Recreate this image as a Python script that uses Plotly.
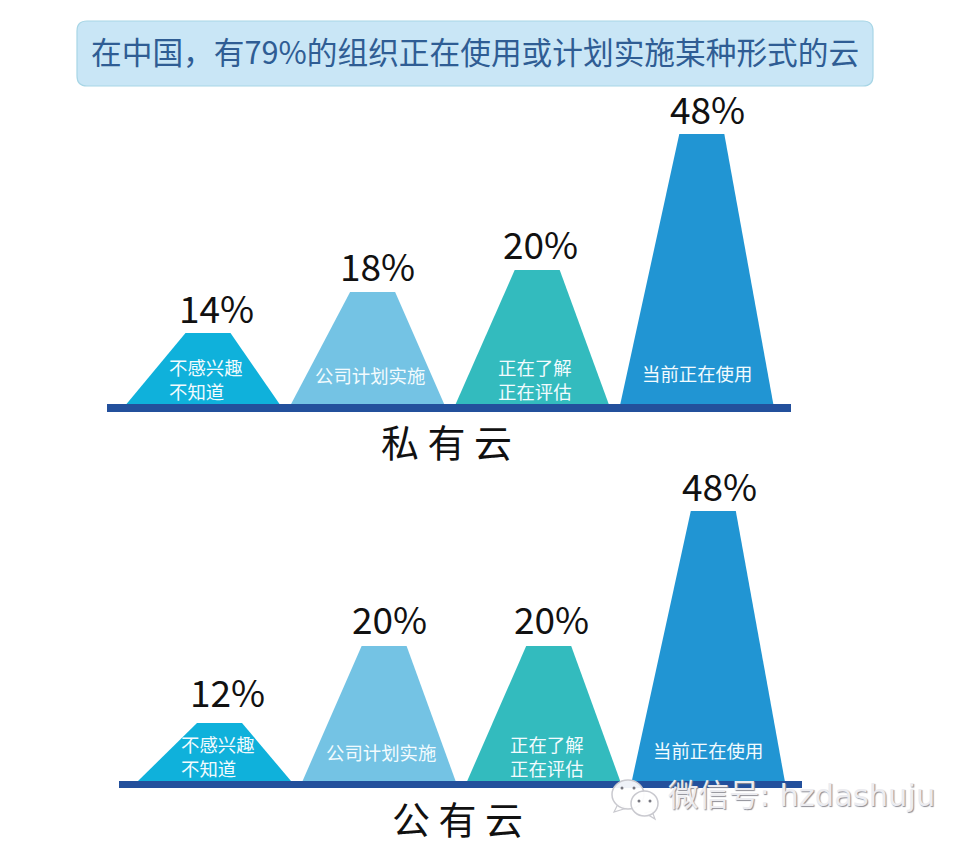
import plotly.graph_objects as go

FONT = "Noto Sans CJK SC"
title_text = "在中国，有79%的组织正在使用或计划实施某种形式的云"
categories = ["不感兴趣<br>不知道", "公司计划实施", "正在了解<br>正在评估", "当前正在使用"]
category_align = ["left", "center", "center", "center"]
colors = ["#0FB1DB", "#74C3E4", "#33BBBE", "#2195D3"]

private_name = "私 有 云"
private_values = [14, 18, 20, 48]
private_heights = [71, 112, 134, 270]

public_name = "公 有 云"
public_values = [12, 20, 20, 48]
public_heights = [58, 135, 135, 270]

watermark = "微信号: hzdashuju"

W, H = 966, 847
STEP = 164.6
BOTTOM_HALF = 76.5 / STEP
TOP_HALF = 22.5 / STEP
TOP_OFFSET = 5 / STEP
VALUE_SHIFT = [13, 10, 8, 11]
TEXT_SHIFT = [3, 2, 3, 0]
TEXT_LIFT = [25, 29, 25, 31]
PRIVATE_LABEL_LIFT = [-3, -2, -2, -3]
PUBLIC_LABEL_LIFT = [3, -1, -1, -3]

fig = go.Figure()
annotations = []


def panel(xaxis, yaxis, values, heights, name, name_x, lifts):
    for i, (v, h) in enumerate(zip(values, heights)):
        fig.add_trace(go.Scatter(
            x=[i - BOTTOM_HALF, i + TOP_OFFSET - TOP_HALF, i + TOP_OFFSET + TOP_HALF,
               i + BOTTOM_HALF, i - BOTTOM_HALF],
            y=[0, h, h, 0, 0], mode="lines", fill="toself", fillcolor=colors[i],
            line=dict(color=colors[i], width=0), hoverinfo="skip", showlegend=False,
            xaxis=xaxis, yaxis=yaxis))
        annotations.append(dict(
            x=i, y=h, xref=xaxis, yref=yaxis, text=f"{v}%", showarrow=False,
            xanchor="center", yanchor="bottom", xshift=VALUE_SHIFT[i], yshift=lifts[i],
            font=dict(family=FONT, size=37, color="#111111")))
        annotations.append(dict(
            x=i, y=0, xref=xaxis, yref=yaxis, text=categories[i], showarrow=False,
            xanchor="center", yanchor="middle", align=category_align[i],
            xshift=TEXT_SHIFT[i], yshift=TEXT_LIFT[i],
            font=dict(family=FONT, size=18.4, color="#F2FBFE")))
    annotations.append(dict(
        x=name_x, y=0, xref=xaxis, yref=yaxis, text=name, showarrow=False,
        xanchor="center", yanchor="middle", yshift=-36,
        font=dict(family=FONT, size=38, color="#111111")))


panel("x", "y", private_values, private_heights, private_name, 1.477, PRIVATE_LABEL_LIFT)
panel("x2", "y2", public_values, public_heights, public_name, 1.477, PUBLIC_LABEL_LIFT)

px = dict(xref="paper", yref="paper")


def X(v):
    return v / W


def Y(v):
    return 1 - v / H


def base(x0, x1, y0, y1):
    return dict(type="rect", **px, x0=X(x0), x1=X(x1), y0=Y(y0), y1=Y(y1),
                fillcolor="#23509C", line_width=0, layer="above")


def ell(x0, x1, y0, y1):
    return dict(type="circle", **px, x0=X(x0), x1=X(x1), y0=Y(y0), y1=Y(y1),
                fillcolor="rgba(255,255,255,0.93)", line=dict(color="#C9C9CF", width=1.5), layer="above")


def dot(x, y):
    return dict(type="circle", **px, x0=X(x - 1.5), x1=X(x + 1.5), y0=Y(y - 1.5), y1=Y(y + 1.5),
                fillcolor="#77777F", line_width=0, layer="above")


def tail(x0, y0, x1, y1, x2, y2):
    return dict(type="path", **px, path=f"M{X(x0)},{Y(y0)} L{X(x1)},{Y(y1)} L{X(x2)},{Y(y2)} Z",
                fillcolor="white", line=dict(color="#C9C9CF", width=1.2), layer="above")


x0, x1, y0, y1, r = X(77), X(873), Y(21), Y(86), 10
rx, ry = r / W, r / H
box_path = (f"M{x0 + rx},{y0} L{x1 - rx},{y0} Q{x1},{y0} {x1},{y0 - ry} L{x1},{y1 + ry} "
            f"Q{x1},{y1} {x1 - rx},{y1} L{x0 + rx},{y1} Q{x0},{y1} {x0},{y1 + ry} "
            f"L{x0},{y0 - ry} Q{x0},{y0} {x0 + rx},{y0} Z")

shapes = [
    dict(type="path", **px, path=box_path, fillcolor="#C9E6F6",
         line=dict(color="#A8D6E6", width=1.2), layer="below"),
    base(107, 791, 404, 412),
    base(119, 802, 781, 788),
    tail(618, 804, 614, 812, 627, 808),
    ell(612, 644, 780, 809),
    dot(622, 788), dot(634, 788),
    tail(645, 813, 655, 819, 652, 811),
    ell(631, 658, 791, 816),
    dot(639, 801), dot(650, 801),
]

annotations.append(dict(
    x=X(475), y=Y(50), xref="paper", yref="paper", text=title_text, showarrow=False,
    xanchor="center", yanchor="middle",
    font=dict(family=FONT, size=30.7, color="#2F5D94")))
annotations.append(dict(
    x=X(666), y=Y(795), xref="paper", yref="paper", text=watermark, showarrow=False,
    xanchor="left", yanchor="middle",
    font=dict(family="DejaVu Sans, Noto Sans CJK SC", size=30.5, color="#ECECF0",
              shadow="1px 1px 1px #8E8E96")))

ax = dict(visible=False, fixedrange=True, domain=[0, 1])
fig.update_layout(
    width=W, height=H, autosize=False,
    margin=dict(l=0, r=0, t=0, b=0), paper_bgcolor="white", plot_bgcolor="white",
    xaxis=dict(ax, range=[(0 - 203) / STEP, (W - 203) / STEP]),
    xaxis2=dict(ax, range=[(0 - 214.5) / STEP, (W - 214.5) / STEP], overlaying="x"),
    yaxis=dict(ax, range=[-(H - 404), 404]),
    yaxis2=dict(ax, range=[-(H - 781), 781], overlaying="y"),
    shapes=shapes, annotations=annotations, showlegend=False,
)
fig.write_html("out.html", config=dict(displayModeBar=False),
               post_script="document.body.style.margin='0';document.documentElement.style.overflow='hidden';window.dispatchEvent(new Event('resize'));")
